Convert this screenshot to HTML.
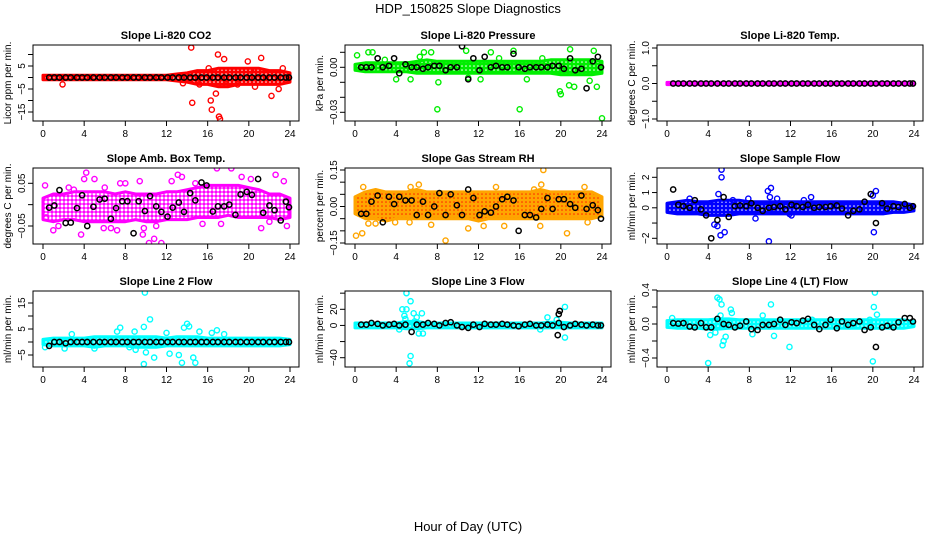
<!DOCTYPE html>
<html><head><meta charset="utf-8"><style>
html,body{margin:0;padding:0;background:#fff;}
svg{display:block;font-family:"Liberation Sans",sans-serif;}
</style></head><body>
<svg id="chart" width="936" height="540" viewBox="0 0 936 540" xmlns="http://www.w3.org/2000/svg">
<defs id="defs"></defs>
<text x="468" y="13" text-anchor="middle" font-size="13">HDP_150825  Slope Diagnostics</text>
<text x="468" y="531" text-anchor="middle" font-size="13">Hour of Day (UTC)</text>
<g id="panels"></g>
</svg>
<script>
const xTicks = [0,4,8,12,16,20,24];
const bandHours = [0,1,2,3,4,5,6,7,8,9,10,11,12,13,14,15,16,17,18,19,20,21,22,23,24];
const blackHours = [0.6,1.1,1.6,2.2,2.7,3.3,3.8,4.3,4.9,5.5,6.0,6.6,7.1,7.7,8.2,8.8,9.3,9.9,10.4,11.0,11.5,12.1,12.6,13.2,13.7,14.3,14.8,15.4,15.9,16.5,17.0,17.6,18.1,18.7,19.2,19.8,20.3,20.9,21.4,22.0,22.5,23.1,23.6,23.9];

// Panel 1 CO2
const co2Lo = [-1,-1,-1,-1,-1,-1,-1,-1,-1,-1,-1,-1,-1,-1.5,-2,-3,-3,-4,-4,-3,-3,-3,-3,-3,-2];
const co2Hi = [1,1,1,1,1,1,1,1,1,1,1,1,1,1.5,2,3,3,4,4,4,4,4,3,3,2];
const co2Out = [[14.4,13],[14.5,-11],[16.3,-10],[16.4,-14],[17.2,-18],[17.1,-17],[16.8,-7],[17.0,10],[17.6,8],[19.9,7],[21.2,8.5],[22.2,-8],[22.9,-5],[23.3,4],[16.1,4],[18.9,-3],[20.6,-4],[1.9,-3],[17.8,-3],[20.2,3],[15.2,-3],[13.6,-2.5]];
const co2Black = [0,0,0,0,0,0,0,0,0,0,0,0,0,0,0,0,0,0,0,0,0,0,0,0,0,0,0,0,0,0,0,0,0,0,0,0,0,0,0,0,0,0,0,0];

// Panel 2 Pressure
const presLo = [-0.002,-0.003,-0.003,-0.003,-0.003,-0.003,-0.004,-0.004,-0.004,-0.004,-0.004,-0.004,-0.004,-0.004,-0.004,-0.004,-0.004,-0.004,-0.004,-0.004,-0.005,-0.005,-0.005,-0.005,-0.004];
const presHi = [0.002,0.003,0.003,0.003,0.003,0.003,0.004,0.005,0.004,0.004,0.004,0.004,0.004,0.004,0.004,0.004,0.004,0.004,0.004,0.005,0.005,0.005,0.005,0.005,0.004];
const presOut = [[0.2,0.008],[1.3,0.010],[1.7,0.010],[6.7,0.010],[7.4,0.010],[8.0,-0.028],[16.0,-0.028],[24.0,-0.034],[19.9,-0.016],[20.0,-0.018],[20.8,-0.012],[21.3,-0.013],[23.5,-0.013],[23.2,0.011],[20.9,0.012],[15.4,0.011],[10.8,0.011],[13.2,0.010],[11.0,-0.007],[8.1,-0.010],[5.4,-0.008],[4.0,-0.008],[18.2,0.006],[16.7,-0.008],[22.8,-0.009],[6.3,0.007],[14.0,0.006],[2.9,0.005],[12.2,-0.008]];
const presBlack = [0,0,0,0.006,0,0.001,0.006,-0.004,0.002,0,0,-0.001,0,0.001,0.001,-0.002,0,0,0.014,-0.008,0.006,-0.002,0.007,0,0.001,0,0,0.009,0,-0.001,0,0,0,0,0.001,0.001,-0.001,0.006,-0.002,-0.001,-0.014,0.004,0.007,0];

// Panel 3 Li-820 Temp
const tempLo = [-0.03,-0.03,-0.03,-0.03,-0.03,-0.03,-0.03,-0.03,-0.03,-0.03,-0.03,-0.03,-0.03,-0.03,-0.03,-0.03,-0.03,-0.03,-0.03,-0.03,-0.03,-0.03,-0.03,-0.03,-0.03];
const tempHi = [0.03,0.03,0.03,0.03,0.03,0.03,0.03,0.03,0.03,0.03,0.03,0.03,0.03,0.03,0.03,0.03,0.03,0.03,0.03,0.03,0.03,0.03,0.03,0.03,0.03];
const tempOut = [];
const tempBlack = [0,0,0,0,0,0,0,0,0,0,0,0,0,0,0,0,0,0,0,0,0,0,0,0,0,0,0,0,0,0,0,0,0,0,0,0,0,0,0,0,0,0,0,0];

// Panel 4 Amb box temp
const ambLo = [-0.035,-0.04,-0.035,-0.035,-0.04,-0.04,-0.04,-0.04,-0.04,-0.035,-0.04,-0.04,-0.035,-0.035,-0.035,-0.03,-0.03,-0.03,-0.025,-0.03,-0.03,-0.03,-0.03,-0.035,-0.03];
const ambHi = [0.015,0.025,0.025,0.03,0.03,0.03,0.03,0.025,0.03,0.025,0.025,0.025,0.03,0.03,0.035,0.04,0.045,0.045,0.045,0.045,0.04,0.035,0.025,0.025,0.015];
const ambOut = [[0.2,0.045],[4.2,0.075],[5.0,0.06],[10.3,-0.09],[11.5,-0.09],[10.8,-0.08],[9.7,-0.07],[16.9,0.085],[18.3,0.085],[22.6,0.07],[23.4,0.055],[3.7,-0.07],[21.2,-0.055],[9.8,-0.055],[7.2,-0.06],[1.0,-0.06],[23.7,-0.05],[13.1,0.07],[13.5,0.065],[5.9,-0.055],[4.0,0.06],[9.4,0.055],[7.5,0.05],[0.3,-0.03],[6.6,-0.055],[12.5,0.055],[2.5,0.04],[8.0,0.05],[14.8,0.05],[19.3,0.065],[20.2,0.06],[1.5,-0.05],[11.0,-0.05],[22.0,-0.04],[17.3,-0.045],[15.5,-0.045],[3.0,0.035],[6.0,0.04]];
const ambBlack = [-0.007,-0.002,0.034,-0.043,-0.042,-0.008,0.022,-0.05,-0.005,0.012,0.014,-0.033,-0.008,0.008,0.008,-0.067,0.008,-0.015,0.02,-0.004,-0.017,-0.028,-0.007,0.005,-0.017,0.027,0.01,0.052,0.045,-0.016,-0.004,-0.004,0,-0.024,0.024,0.03,0.023,0.06,-0.019,-0.002,-0.013,-0.037,0.007,-0.006];

// Panel 5 Gas stream RH
const rhLo = [-0.03,-0.05,-0.05,-0.06,-0.05,-0.05,-0.05,-0.05,-0.05,-0.05,-0.05,-0.05,-0.06,-0.05,-0.05,-0.05,-0.05,-0.05,-0.05,-0.05,-0.05,-0.05,-0.05,-0.05,-0.04];
const rhHi = [0.04,0.06,0.07,0.06,0.06,0.06,0.07,0.06,0.06,0.06,0.06,0.06,0.06,0.06,0.06,0.06,0.06,0.06,0.07,0.06,0.06,0.06,0.06,0.06,0.04];
const rhOut = [[0.1,-0.12],[0.7,-0.11],[0.8,0.08],[2.0,-0.07],[8.8,-0.14],[18.3,0.15],[20.6,-0.11],[18.0,-0.08],[11.0,-0.09],[12.5,-0.08],[14.5,-0.08],[6.2,0.09],[5.4,0.08],[13.7,0.08],[17.4,0.07],[22.3,0.08],[3.9,-0.065],[22.6,-0.065],[7.4,-0.075],[1.3,-0.07],[5.3,-0.065],[18.1,0.09]];
const rhBlack = [-0.03,-0.03,0.02,0.045,-0.065,0.04,0.01,0.04,0.025,0.025,-0.035,0.02,-0.035,0,0.055,-0.035,0.05,0.005,-0.035,0.07,0.035,-0.035,-0.02,-0.025,0,0.03,0.04,0.025,-0.1,-0.035,-0.035,-0.045,-0.01,0.035,-0.01,0.03,0.03,0.01,-0.005,0.045,-0.01,0.005,-0.015,-0.05];

// Panel 6 Sample flow
const sfLo = [-0.3,-0.4,-0.4,-0.4,-0.5,-0.5,-0.5,-0.4,-0.4,-0.4,-0.4,-0.4,-0.4,-0.4,-0.4,-0.4,-0.4,-0.4,-0.4,-0.4,-0.4,-0.4,-0.3,-0.3,-0.2];
const sfHi = [0.3,0.4,0.5,0.4,0.4,0.5,0.5,0.5,0.4,0.4,0.4,0.4,0.4,0.4,0.4,0.4,0.4,0.4,0.4,0.4,0.4,0.4,0.4,0.3,0.2];
const sfOut = [[5.3,2.5],[5.3,2.0],[5.0,0.9],[9.8,1.1],[10.1,1.3],[10.0,0.7],[9.9,-2.2],[5.2,-1.8],[5.6,-1.6],[4.6,-1.1],[4.9,-1.2],[8.6,-0.7],[20.0,0.8],[20.3,1.1],[20.1,-1.6],[12.1,-0.5],[13.3,0.5],[14.0,0.7],[10.7,0.6],[6.4,0.5],[7.9,0.6],[2.2,0.6],[11.9,-0.4],[0.2,-0.2]];
const sfBlack = [1.2,0.2,0.1,0,0.5,-0.1,-0.5,-2.0,-0.8,0.7,-0.6,0.1,0.15,0.1,0.3,0,-0.2,0,0.05,0.1,-0.1,0.2,0.1,0.05,0.2,0,0.05,0.05,0.1,0.15,-0.05,-0.5,-0.2,-0.1,0.4,0.9,-1.0,0.3,-0.05,0.1,0.05,0.25,0,0.1];

// Panel 7 Line 2 flow
const l2Lo = [-1,-1.5,-1.5,-1.5,-1.5,-2,-1.5,-1.5,-1.5,-2,-2,-2,-1.5,-1.5,-1.5,-1.5,-1.5,-1.5,-1.5,-1.5,-1.5,-1.5,-1.5,-1.5,-1];
const l2Hi = [1,1.5,1.5,1.5,1.5,2,2,2,2,2,2,2,1.5,2,2,2,1.5,1.5,1.5,1.5,1.5,1.5,1.5,1.5,1];
const l2Out = [[9.9,19],[9.8,5.8],[10.4,8.7],[10.0,-4],[9.8,-8.5],[10.8,-6],[12.3,-4.5],[13.2,-5],[13.5,-8],[14.0,7],[14.2,6],[14.6,-6],[14.8,-8],[15.2,4],[13.7,5.5],[7.5,5.5],[8.9,4],[9.0,-3],[16.4,3.5],[16.9,4.5],[2.8,3],[0.2,-2],[2.1,-2.5],[12.0,3.5],[17.6,3],[8.4,-2],[7.2,4],[5.0,-2.5]];
const l2Black = [-1.5,0,0,-0.5,0,0,0,0,0,0,0,0,0,0,0,0,0,0,0,0,0,0,0,0,0,0,0,0,0,0,0,0,0,0,0,0,0,0,0,0,0,0,0,0];

// Panel 8 Line 3 flow
const l3Lo = [-3,-3,-3,-3,-3,-4,-4,-3,-3,-3,-3,-3,-3,-3,-3,-3,-3,-3,-3,-3,-3,-3,-3,-3,-3];
const l3Hi = [3,3,3,3,3,5,5,3,3,3,3,3,3,3,3,3,3,3,3,4,4,3,3,3,3];
const l3Out = [[5.0,40],[5.4,30],[4.6,20],[5.0,20],[4.8,12],[4.9,8],[5.7,15],[6.5,15],[6.0,10],[6.2,-10],[6.6,-10],[5.4,-38],[5.3,-47],[20.4,23],[20.4,-15],[18.7,10],[19.6,7],[4.3,-5],[5.8,5],[18.0,-5]];
const l3Black = [1,1,3,2,0,1,2,0,1,-8,1,1,3,2,0,3,4,0,-2,-3,1,-2,2,1,1,2,1,0,-1,1,2,0,0,1,0,3,-2,0,2,1,0,1,0,0];
const l3BlackExtra = [[19.8,14],[19.9,18],[19.7,-12]];

// Panel 9 Line 4 flow
const l4Lo = [-0.04,-0.05,-0.05,-0.05,-0.06,-0.06,-0.05,-0.05,-0.05,-0.05,-0.05,-0.05,-0.05,-0.05,-0.05,-0.05,-0.05,-0.05,-0.05,-0.05,-0.05,-0.05,-0.05,-0.05,-0.03];
const l4Hi = [0.04,0.05,0.05,0.05,0.05,0.06,0.06,0.05,0.05,0.05,0.05,0.05,0.05,0.05,0.05,0.05,0.05,0.05,0.05,0.05,0.05,0.05,0.05,0.05,0.03];
const l4Out = [[4.0,-0.46],[4.9,0.31],[5.1,0.29],[5.3,0.23],[5.4,-0.25],[5.5,-0.2],[5.7,-0.15],[6.2,0.17],[6.3,0.13],[10.1,0.23],[11.9,-0.27],[20.0,-0.44],[20.2,0.37],[20.1,0.2],[20.4,0.11],[4.2,-0.13],[4.7,-0.1],[8.3,-0.12],[9.3,0.1],[5.2,0.1],[10.4,-0.14],[19.7,0.05],[14.1,0.05],[0.5,0.07]];
const l4Black = [0.01,0.005,0.01,-0.03,-0.04,0.01,-0.04,-0.04,0.06,0,-0.01,-0.04,-0.02,0.03,-0.06,-0.07,-0.01,-0.01,0,0.05,-0.01,0.02,0.01,0.04,0.06,-0.01,-0.06,-0.01,0.05,-0.05,0.03,-0.01,0.01,0.03,-0.07,-0.04,-0.27,-0.04,-0.02,-0.04,0.02,0.07,0.07,0.03];

const panels = [
 {name:'co2',title:'Slope Li-820 CO2',ylab:'Licor ppm per min.',col:0,row:0,color:'#ff0000',v1:5,p1:66,v2:-15,p2:112,ticks:[-15,-10,-5,0,5,10],labs:{'-15':'\u221215','-5':'\u22125','5':'5'},lo:co2Lo,hi:co2Hi,out:co2Out,black:co2Black},
 {name:'pressure',title:'Slope Li-820 Pressure',ylab:'kPa per min.',col:1,row:0,color:'#00ee00',v1:0,p1:67.3,v2:-0.03,p2:112.3,ticks:[0.01,0,-0.01,-0.02,-0.03],labs:{'0':'0.00','-0.03':'\u22120.03'},lo:presLo,hi:presHi,out:presOut,black:presBlack},
 {name:'li820-temp',title:'Slope Li-820 Temp.',ylab:'degrees C per min.',col:2,row:0,color:'#ff00ff',v1:1,p1:48,v2:-1,p2:119,ticks:[-1,-0.5,0,0.5,1],labs:{'-1':'\u22121.0','0':'0.0','1':'1.0'},lo:tempLo,hi:tempHi,out:tempOut,black:tempBlack},
 {name:'amb-box-temp',title:'Slope Amb. Box Temp.',ylab:'degrees C per min.',col:0,row:1,color:'#ff00ff',hole:1.5,v1:0.05,p1:183.3,v2:-0.05,p2:226,ticks:[-0.05,0,0.05],labs:{'-0.05':'\u22120.05','0.05':'0.05'},lo:ambLo,hi:ambHi,out:ambOut,black:ambBlack},
 {name:'gas-rh',title:'Slope Gas Stream RH',ylab:'percent per min.',col:1,row:1,color:'#ffa500',color2:'#ff2000',v1:0.15,p1:170,v2:-0.15,p2:243,ticks:[-0.15,-0.1,-0.05,0,0.05,0.1,0.15],labs:{'-0.15':'\u22120.15','0':'0.00','0.15':'0.15'},lo:rhLo,hi:rhHi,out:rhOut,black:rhBlack},
 {name:'sample-flow',title:'Slope Sample Flow',ylab:'ml/min per min.',col:2,row:1,color:'#0000ff',v1:2,p1:177.3,v2:-2,p2:238.3,ticks:[-2,-1,0,1,2],labs:{'-2':'\u22122','0':'0','1':'1','2':'2'},lo:sfLo,hi:sfHi,out:sfOut,black:sfBlack},
 {name:'line2-flow',title:'Slope Line 2 Flow',ylab:'ml/min per min.',col:0,row:2,color:'#00ffff',v1:5,p1:329,v2:-5,p2:355,ticks:[-5,0,5,10,15],labs:{'-5':'\u22125','5':'5','15':'15'},lo:l2Lo,hi:l2Hi,out:l2Out,black:l2Black},
 {name:'line3-flow',title:'Slope Line 3 Flow',ylab:'ml/min per min.',col:1,row:2,color:'#00ffff',v1:20,p1:309.3,v2:-40,p2:357.7,ticks:[-40,-20,0,20,40],labs:{'-40':'\u221240','0':'0','20':'20'},lo:l3Lo,hi:l3Hi,out:l3Out,black:l3Black,blackExtra:l3BlackExtra},
 {name:'line4-flow',title:'Slope Line 4 (LT) Flow',ylab:'ml/min per min.',col:2,row:2,color:'#00ffff',v1:0.4,p1:290,v2:-0.4,p2:358,ticks:[-0.4,-0.2,0,0.2,0.4],labs:{'-0.4':'\u22120.4','0':'0.0','0.4':'0.4'},lo:l4Lo,hi:l4Hi,out:l4Out,black:l4Black}
];

const NS='http://www.w3.org/2000/svg';
const root=document.getElementById('panels');
const defs=document.getElementById('defs');
function mk(tag,attrs,parent){const e=document.createElementNS(NS,tag);for(const k in attrs)e.setAttribute(k,attrs[k]);(parent||root).appendChild(e);return e;}

panels.forEach((p,i)=>{
  const L=33+312*p.col, T=45+123*p.row, W=266, H=76;
  const xs=h=>L+10+h*(247/24);
  const ys=v=>p.p1+(v-p.v1)*(p.p2-p.p1)/(p.v2-p.v1);
  const g=mk('g',{});
  
  
  const pat=mk('pattern',{id:'pat'+i,width:4,height:4,patternUnits:'userSpaceOnUse'},defs);
  mk('rect',{width:4,height:4,fill:p.color},pat);
  mk('circle',{cx:2,cy:2,r:p.hole||0.8,fill:p.color2||'#ffffff'},pat);
  const clipId='clip'+i;
  const cp=mk('clipPath',{id:clipId},defs);
  mk('rect',{x:L,y:T,width:W,height:H},cp);
  const data=mk('g',{'clip-path':'url(#'+clipId+')'},g);
  let d='';
  bandHours.forEach((h,k)=>{d+=(k?'L':'M')+xs(h).toFixed(1)+','+ys(p.hi[k]).toFixed(1)+' ';});
  for(let k=bandHours.length-1;k>=0;k--){d+='L'+xs(bandHours[k]).toFixed(1)+','+ys(p.lo[k]).toFixed(1)+' ';}
  const band=mk('path',{d:d+'Z',fill:'url(#pat'+i+')',stroke:p.color,'stroke-width':3,'stroke-linejoin':'round'},data);
  
  
  p.out.forEach(o=>{
    const c=mk('circle',{cx:xs(o[0]),cy:ys(o[1]),r:2.6,fill:'none',stroke:p.color,'stroke-width':1.4},data);
    
    
  });
  const n=Math.min(blackHours.length,p.black.length);
  for(let k=0;k<n;k++){
    const c=mk('circle',{cx:xs(blackHours[k]),cy:ys(p.black[k]),r:2.6,fill:'none',stroke:'#000','stroke-width':1.5},data);
    
    
  }
  (p.blackExtra||[]).forEach(o=>{
    const c=mk('circle',{cx:xs(o[0]),cy:ys(o[1]),r:2.6,fill:'none',stroke:'#000','stroke-width':1.5},data);
    
    
  });
  const box=mk('rect',{x:L,y:T,width:W,height:H,fill:'none',stroke:'#000','stroke-width':1},g);
  
  
  const t=mk('text',{x:L+W/2,y:T-6,'text-anchor':'middle','font-size':11,'font-weight':'bold'},g);
  t.textContent=p.title;
  
  
  const xa=mk('g',{},g);
  
  
  mk('line',{x1:xs(0),x2:xs(24),y1:T+H,y2:T+H,stroke:'#000'},xa);
  xTicks.forEach(h=>{
    mk('line',{x1:xs(h),x2:xs(h),y1:T+H,y2:T+H+5,stroke:'#000'},xa);
    const lt=mk('text',{x:xs(h),y:T+H+16,'text-anchor':'middle','font-size':10},xa);
    lt.textContent=h;
    
    
  });
  const ya=mk('g',{},g);
  
  
  const ymin=Math.min(...p.ticks), ymax=Math.max(...p.ticks);
  mk('line',{x1:L,x2:L,y1:ys(ymin),y2:ys(ymax),stroke:'#000'},ya);
  p.ticks.forEach(v=>{
    const y=ys(v);
    mk('line',{x1:L-5,x2:L,y1:y,y2:y,stroke:'#000'},ya);
    const lab=p.labs[String(v)];
    if(lab!==undefined){
      const lt=mk('text',{x:L-8,y:y,'text-anchor':'middle','font-size':10,transform:'rotate(-90 '+(L-8)+' '+y+')'},ya);
      lt.textContent=lab;
      
      
    }
  });
  const yl=mk('text',{x:L-22,y:T+H/2,'text-anchor':'middle','font-size':10,transform:'rotate(-90 '+(L-22)+' '+(T+H/2)+')'},g);
  yl.textContent=p.ylab;
  
  
});
</script>
</body></html>
